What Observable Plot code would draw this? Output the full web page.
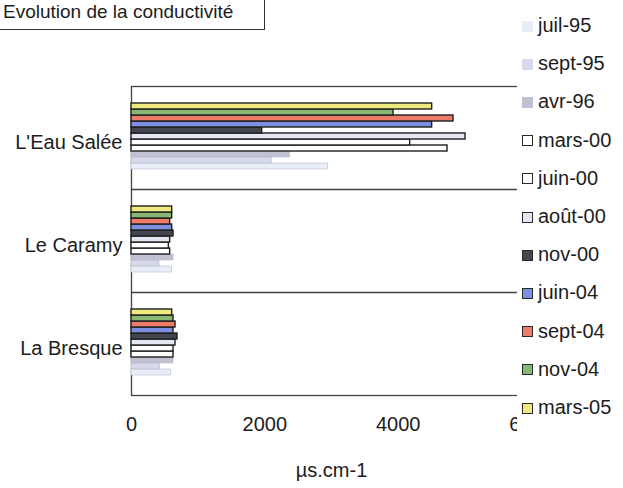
<!DOCTYPE html>
<html>
<head>
<meta charset="utf-8">
<script src="https://cdn.jsdelivr.net/npm/d3@7"></script>
<script src="https://cdn.jsdelivr.net/npm/@observablehq/plot@0.6"></script>
<style>
  html, body { margin: 0; padding: 0; background: #fff; }
  #chart { position: relative; width: 623px; height: 488px; overflow: hidden; font-family: "Liberation Sans", Arial, sans-serif; color: #1c1c1c; }
  #title { position: absolute; left: -1px; top: -12px; width: 266px; height: 42px; border: 1px solid #333; box-sizing: border-box; padding: 13px 0 0 3px; font-size: 19px; line-height: 19px; white-space: nowrap; background: #fff; }
  #legend { position: absolute; left: 517px; top: 6px; width: 106px; height: 428px; background: #fff; }
  .item { position: absolute; left: 0; height: 24px; display: flex; align-items: center; font-size: 20px; line-height: 20px; white-space: nowrap; }
  .sw { width: 11px; height: 11px; box-sizing: border-box; margin: 2px 5px 0 5px; }
</style>
</head>
<body>
<div id="chart"><div id="title">Evolution de la conductivité</div><div id="legend"></div></div>
<script>
// Sites (groups) and sampling campaigns (series)
const sites = ["L'Eau Salée", "Le Caramy", "La Bresque"];
const campaigns = ["juil-95", "sept-95", "avr-96", "mars-00", "juin-00", "août-00", "nov-00", "juin-04", "sept-04", "nov-04", "mars-05"];

// Conductivity (µS/cm) per campaign, same order as campaigns
const eauSalee = [2950, 2110, 2380, 4740, 4180, 5010, 1960, 4510, 4830, 3930, 4510];
const caramy   = [610, 420, 630, 580, 560, 580, 630, 610, 580, 610, 610];
const bresque  = [590, 430, 630, 630, 630, 660, 690, 630, 660, 630, 610];

const xTicks = [0, 2000, 4000, 6000];

const fills = ["#e8eef7", "#d6d9ea", "#c0c2d4", "#ffffff", "#ffffff", "#e3e7f3", "#45454f", "#7d8fe0", "#ee7a68", "#88b873", "#eeea80"];
const outlined = new Set(["mars-00", "juin-00", "août-00", "nov-00", "juin-04", "sept-04", "nov-04", "mars-05"]);

const bySite = [eauSalee, caramy, bresque];
const rows = sites.flatMap((site, i) =>
  campaigns.map((c, j) => ({site, campaign: c, value: bySite[i][j]})));

const chart = Plot.plot({
  width: 623,
  height: 488,
  marginLeft: 131,
  marginRight: 92,
  marginTop: 85,
  marginBottom: 93,
  style: {fontFamily: "'Liberation Sans', Arial, sans-serif", fontSize: "20px", color: "#1c1c1c", background: "transparent"},
  facet: {data: rows, y: "site"},
  fy: {domain: sites, padding: 0, label: null},
  y: {domain: campaigns.slice().reverse(), axis: null, insetTop: 12, insetBottom: 15, padding: 0.04},
  x: {domain: [0, 6000], ticks: xTicks, tickFormat: d3.format("d"), tickSize: 0, tickPadding: 21,
      label: "µs.cm-1", labelArrow: "none", labelAnchor: "center", labelOffset: 81},
  color: {domain: campaigns, range: fills},
  marks: [
    Plot.frame({stroke: "#444", strokeWidth: 1.3}),
    Plot.axisFy({anchor: "left", tickSize: 0, tickPadding: 9, dy: 5, label: null}),
    Plot.barX(rows, {filter: d => !outlined.has(d.campaign), x: "value", y: "campaign", fill: "campaign", stroke: "#b9bccd", strokeWidth: 0.6}),
    Plot.barX(rows, {filter: d => outlined.has(d.campaign), x: "value", y: "campaign", fill: "campaign", stroke: "#1e1e1e", strokeWidth: 1.4})
  ]
});
document.getElementById("chart").prepend(chart);

// Legend: one swatch per campaign, stacked vertically
const color = chart.scale("color");
const legend = document.getElementById("legend");
campaigns.forEach((c, i) => {
  const item = document.createElement("div");
  item.className = "item";
  item.style.top = (7 + 38.2 * i) + "px";
  const sw = document.createElement("span");
  sw.className = "sw";
  sw.style.background = color.apply(c);
  sw.style.border = outlined.has(c) ? "1.5px solid #2a2a2a" : "none";
  item.appendChild(sw);
  item.appendChild(document.createTextNode(c));
  legend.appendChild(item);
});
</script>
</body>
</html>
